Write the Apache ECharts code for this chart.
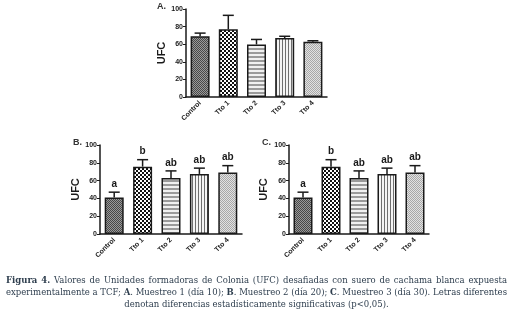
<!DOCTYPE html>
<html>
<head>
<meta charset="utf-8">
<script src="https://cdn.jsdelivr.net/npm/echarts@6/dist/echarts.min.js"></script>
<style>
  html, body { margin: 0; padding: 0; background: #fff; }
  #container { width: 516px; height: 325px; }
</style>
</head>
<body>
<div id="container"></div>
<script>
// categories and values
const categories = ['Control', 'Tto 1', 'Tto 2', 'Tto 3', 'Tto 4'];
const yTicks = [0, 20, 40, 60, 80, 100];

const meanA = [69, 77, 59.7, 67, 62.7];
const errA = [3.6, 15.8, 5.7, 2, 1.2];

const meanB = [41, 75.7, 63, 67.5, 69];
const errB = [6, 7.8, 7.9, 6.5, 7.8];
const lettersB = ['a', 'b', 'ab', 'ab', 'ab'];

const meanC = [41, 75.7, 63, 67.5, 69];
const errC = [6, 7.8, 7.9, 6.5, 7.8];
const lettersC = ['a', 'b', 'ab', 'ab', 'ab'];

const captionLines = [
    [['Figura 4.', true], ['Valores de Unidades formadoras de Colonia (UFC) desafiadas con suero de cachama blanca expuesta', false]],
    [['experimentalmente a TCF;', false], ['A', true], ['. Muestreo 1 (día 10);', false], ['B', true], ['. Muestreo 2 (día 20);', false], ['C', true], ['. Muestreo 3 (día 30). Letras diferentes', false]],
    [['denotan diferencias estadísticamente significativas (p<0,05).', false]]
];

const ink = '#1a1a1a';
const capColor = '#2e3e4e';
const capFont = '"DejaVu Serif", "Liberation Serif", serif';

function pattern(w, h, draw) {
    const c = document.createElement('canvas');
    c.width = w;
    c.height = h;
    draw(c.getContext('2d'));
    return { image: c, repeat: 'repeat' };
}

const fills = [
    // Control: dark fine dots
    pattern(2, 2, g => {
        g.fillStyle = '#9a9a9a'; g.fillRect(0, 0, 2, 2);
        g.fillStyle = '#484848'; g.fillRect(0, 0, 1, 1); g.fillRect(1, 1, 1, 1);
    }),
    // Tto 1: checkerboard
    pattern(4, 4, g => {
        g.fillStyle = '#111'; g.fillRect(0, 0, 4, 4);
        g.fillStyle = '#fff'; g.fillRect(0, 0, 2, 2); g.fillRect(2, 2, 2, 2);
    }),
    // Tto 2: horizontal lines
    pattern(1, 4, g => {
        g.fillStyle = '#f0f0f0'; g.fillRect(0, 0, 1, 4);
        g.fillStyle = '#9a9a9a'; g.fillRect(0, 0, 1, 2);
    }),
    // Tto 3: vertical lines
    pattern(3, 1, g => {
        g.fillStyle = '#f4f4f4'; g.fillRect(0, 0, 3, 1);
        g.fillStyle = '#6e6e6e'; g.fillRect(0, 0, 1, 1);
    }),
    // Tto 4: light fine dots
    pattern(2, 2, g => {
        g.fillStyle = '#e2e2e2'; g.fillRect(0, 0, 2, 2);
        g.fillStyle = '#a8a8a8'; g.fillRect(0, 0, 1, 1); g.fillRect(1, 1, 1, 1);
    })
];

const grids = [
    { left: 186, top: 9, width: 141, height: 88 },
    { left: 100, top: 145, width: 142, height: 89 },
    { left: 289, top: 145, width: 140, height: 89 }
];
const nameGaps = [19, 17, 20];

function xAxisFor(i) {
    return {
        type: 'category',
        gridIndex: i,
        data: categories,
        axisLine: { lineStyle: { color: ink, width: 1.5 } },
        axisTick: { alignWithLabel: true, length: 3, lineStyle: { color: ink, width: 1 } },
        axisLabel: {
            rotate: 45, margin: 5, color: ink,
            fontSize: 7, fontWeight: 'bold', fontFamily: 'Liberation Sans'
        }
    };
}

function yAxisFor(i) {
    return {
        type: 'value',
        gridIndex: i,
        min: yTicks[0],
        max: yTicks[yTicks.length - 1],
        interval: 20,
        name: 'UFC',
        nameLocation: 'middle',
        nameRotate: 90,
        nameGap: nameGaps[i],
        nameTextStyle: { fontSize: 11, fontWeight: 'bold', color: ink, fontFamily: 'Liberation Sans' },
        axisLine: { show: true, lineStyle: { color: ink, width: 1.5 } },
        axisTick: { show: true, length: 3, lineStyle: { color: ink, width: 1 } },
        splitLine: { show: false },
        axisLabel: { margin: 3, color: ink, fontSize: 7, fontWeight: 'bold', fontFamily: 'Liberation Sans' }
    };
}

function barSeries(i, means) {
    return {
        type: 'bar',
        xAxisIndex: i,
        yAxisIndex: i,
        barWidth: 19,
        data: means.map((v, k) => ({
            value: v,
            itemStyle: { color: fills[k], borderColor: ink, borderWidth: 1.5 }
        })),
        z: 2
    };
}

function errSeries(i, means, errs, letters) {
    return {
        type: 'custom',
        xAxisIndex: i,
        yAxisIndex: i,
        z: 3,
        clip: false,
        data: means.map((v, k) => [k, v, errs[k]]),
        renderItem: function (params, api) {
            const k = api.value(0);
            const base = api.coord([k, api.value(1)]);
            const top = api.coord([k, api.value(1) + api.value(2)]);
            const children = [
                { type: 'line', shape: { x1: base[0], y1: base[1], x2: top[0], y2: top[1] },
                  style: { stroke: ink, lineWidth: 1.5 } },
                { type: 'line', shape: { x1: top[0] - 5.5, y1: top[1], x2: top[0] + 5.5, y2: top[1] },
                  style: { stroke: ink, lineWidth: 1.5 } }
            ];
            const txt = letters ? letters[params.dataIndex] : '';
            if (txt) {
                children.push({
                    type: 'text',
                    x: top[0],
                    y: top[1] - 3,
                    style: {
                        text: txt,
                        align: 'center', verticalAlign: 'bottom',
                        textAlign: 'center', textVerticalAlign: 'bottom',
                        font: 'bold 10px "Liberation Sans"', fill: ink
                    }
                });
            }
            return { type: 'group', children: children };
        }
    };
}

// caption, justified word by word like the journal layout
const measureCtx = document.createElement('canvas').getContext('2d');
function fontOf(bold) {
    return (bold ? 'bold ' : '') + '8.5px ' + capFont;
}
function captionGraphics() {
    const out = [];
    const left = 6, right = 507;
    const ys = [281, 293, 305];
    captionLines.forEach((line, li) => {
        // split into words, a single bold letter sticks to the text after it
        const words = [];
        line.forEach(([text, bold]) => {
            const parts = text.split(' ');
            parts.forEach((p, pi) => {
                if (p === '') return;
                if (pi === 0 && words.length && words[words.length - 1].glue) {
                    words[words.length - 1].pieces.push([p, bold]);
                    words[words.length - 1].glue = false;
                } else {
                    words.push({ pieces: [[p, bold]], glue: false });
                }
            });
            if (bold && text.length === 1) words[words.length - 1].glue = true;
        });
        words.forEach(w => {
            w.width = w.pieces.reduce((s, [t, b]) => {
                measureCtx.font = fontOf(b);
                return s + measureCtx.measureText(t).width;
            }, 0);
        });
        const sum = words.reduce((s, w) => s + w.width, 0);
        let gap, x;
        if (li < captionLines.length - 1) {
            gap = (right - left - sum) / (words.length - 1);
            x = left;
        } else {
            measureCtx.font = fontOf(false);
            gap = measureCtx.measureText(' ').width;
            const total = sum + gap * (words.length - 1);
            x = (left + right) / 2 - total / 2;
        }
        words.forEach(w => {
            let px = x;
            w.pieces.forEach(([t, b]) => {
                measureCtx.font = fontOf(b);
                out.push({
                    type: 'text', x: px, y: ys[li],
                    style: { text: t, font: fontOf(b), fill: capColor, textVerticalAlign: 'middle', verticalAlign: 'middle' }
                });
                px += measureCtx.measureText(t).width;
            });
            x += w.width + gap;
        });
    });
    return out;
}

const panelLabels = [['A.', 157, 7], ['B.', 73, 143], ['C.', 262, 143]].map(([t, x, y]) => ({
    type: 'text', x: x, y: y,
    style: { text: t, font: 'bold 9px "Liberation Sans"', fill: '#333', textVerticalAlign: 'middle', verticalAlign: 'middle' }
}));

const myChart = echarts.init(document.getElementById('container'), null, { renderer: 'canvas' });
myChart.setOption({
    animation: false,
    backgroundColor: '#fff',
    grid: grids,
    xAxis: [0, 1, 2].map(xAxisFor),
    yAxis: [0, 1, 2].map(yAxisFor),
    series: [
        barSeries(0, meanA), errSeries(0, meanA, errA, null),
        barSeries(1, meanB), errSeries(1, meanB, errB, lettersB),
        barSeries(2, meanC), errSeries(2, meanC, errC, lettersC)
    ],
    graphic: panelLabels.concat(captionGraphics())
});
</script>
</body>
</html>
